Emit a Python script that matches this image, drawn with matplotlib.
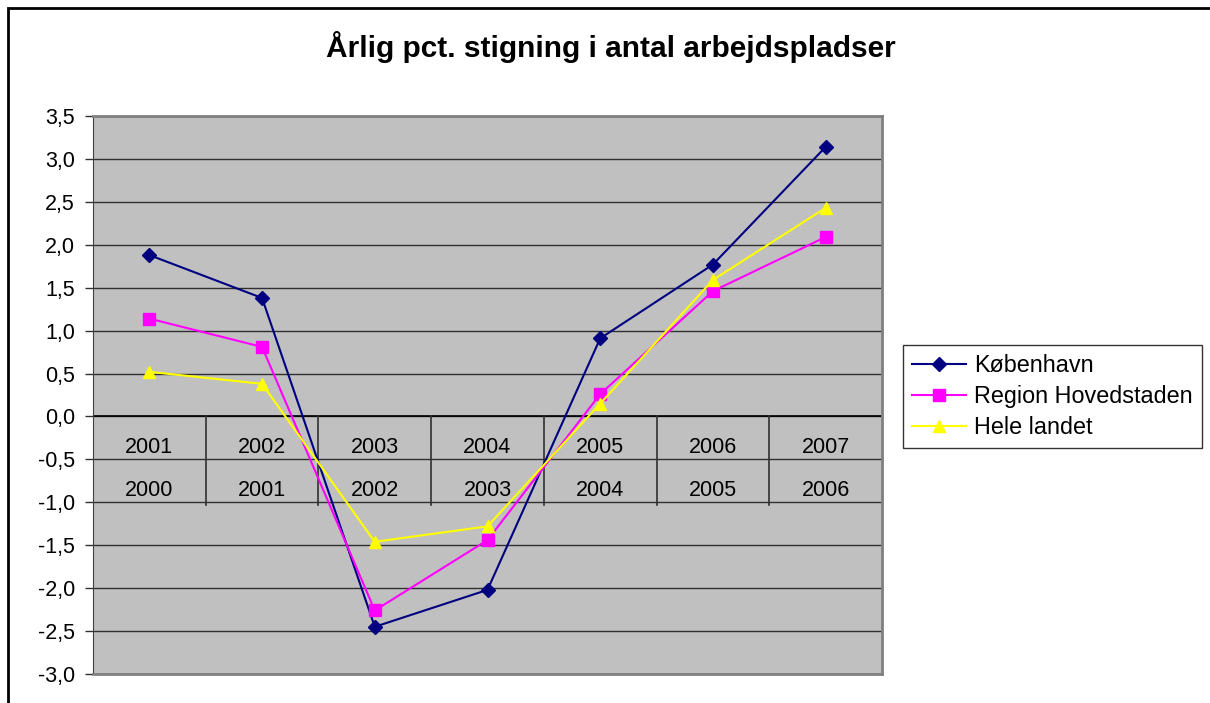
import matplotlib.pyplot as plt
from matplotlib.patches import Rectangle
from matplotlib.lines import Line2D

plt.rcParams['font.family'] = ['Liberation Sans', 'DejaVu Sans']

aar_top = ['2001', '2002', '2003', '2004', '2005', '2006', '2007']
aar_bund = ['2000', '2001', '2002', '2003', '2004', '2005', '2006']
kbh = [1.88, 1.38, -2.45, -2.02, 0.91, 1.77, 3.14]
region = [1.14, 0.81, -2.26, -1.44, 0.26, 1.46, 2.09]
hele = [0.52, 0.38, -1.46, -1.28, 0.15, 1.59, 2.43]
y_ticks = [3.5, 3.0, 2.5, 2.0, 1.5, 1.0, 0.5, 0.0, -0.5, -1.0, -1.5, -2.0, -2.5, -3.0]

W, H = 1210, 703
fig = plt.figure(figsize=(W / 100, H / 100), dpi=100)

# ramme om hele diagrammet (kun venstre og top er synlige)
fig.patches.append(Rectangle((8 / W, -0.1), 1.2, 1 - 8 / H + 0.1, transform=fig.transFigure,
                             fill=False, edgecolor='black', linewidth=2))

ax = fig.add_axes([93 / W, (H - 674) / H, (882 - 93) / W, (674 - 116) / H])
ax.set_facecolor('#C0C0C0')
ax.set_xlim(-0.5, 6.5)
ax.set_ylim(-3.0, 3.5)

for v in y_ticks:
    ax.axhline(v, color='#303030', linewidth=1, zorder=1)
ax.axhline(0, color='black', linewidth=1.2, zorder=1)

x = list(range(len(aar_top)))
ax.plot(x, kbh, color='#000080', marker='D', markersize=7, linewidth=1.5, zorder=3)
ax.plot(x, region, color='#FF00FF', marker='s', markersize=8, linewidth=1.5, zorder=3)
ax.plot(x, hele, color='#FFFF00', marker='^', markersize=9, linewidth=1.5, zorder=3)

# kategorier ved nul-aksen i to rækker
for i in x:
    ax.text(i, -0.36, aar_top[i], ha='center', va='center', fontsize=15.5, zorder=2)
    ax.text(i, -0.86, aar_bund[i], ha='center', va='center', fontsize=15.5, zorder=2)
for b in [0.5, 1.5, 2.5, 3.5, 4.5, 5.5]:
    ax.plot([b, b], [0, -1.03], color='#303030', linewidth=1.2, zorder=1)

ax.set_xticks([])
ax.set_yticks(y_ticks)
ax.set_yticklabels([f'{v:.1f}'.replace('.', ',') for v in y_ticks], fontsize=15.5)
ax.tick_params(axis='y', direction='out', length=6, width=1, color='#303030', pad=7)
for s in ['top', 'right']:
    ax.spines[s].set_color('#808080')
    ax.spines[s].set_linewidth(2)
ax.spines['left'].set_color('#404040')
ax.spines['bottom'].set_color('#808080')
ax.spines['bottom'].set_linewidth(2)

fig.text(611 / W, 1 - 47 / H, 'Årlig pct. stigning i antal arbejdspladser',
         ha='center', va='center', fontsize=21.5, fontweight='bold')

handles = [
    Line2D([], [], color='#000080', marker='D', markersize=7, linewidth=1.5),
    Line2D([], [], color='#FF00FF', marker='s', markersize=8, linewidth=1.5),
    Line2D([], [], color='#FFFF00', marker='^', markersize=9, linewidth=1.5),
]
leg = fig.legend(handles, ['København', 'Region Hovedstaden', 'Hele landet'],
                 loc='upper left', bbox_to_anchor=(903 / W, 1 - 345 / H), fontsize=16.8,
                 frameon=True, fancybox=False, edgecolor='black', borderpad=0.4,
                 handlelength=2.3, handletextpad=0.35, labelspacing=0.33, borderaxespad=0)
leg.get_frame().set_linewidth(1)

fig.savefig('out.png', dpi=100)
